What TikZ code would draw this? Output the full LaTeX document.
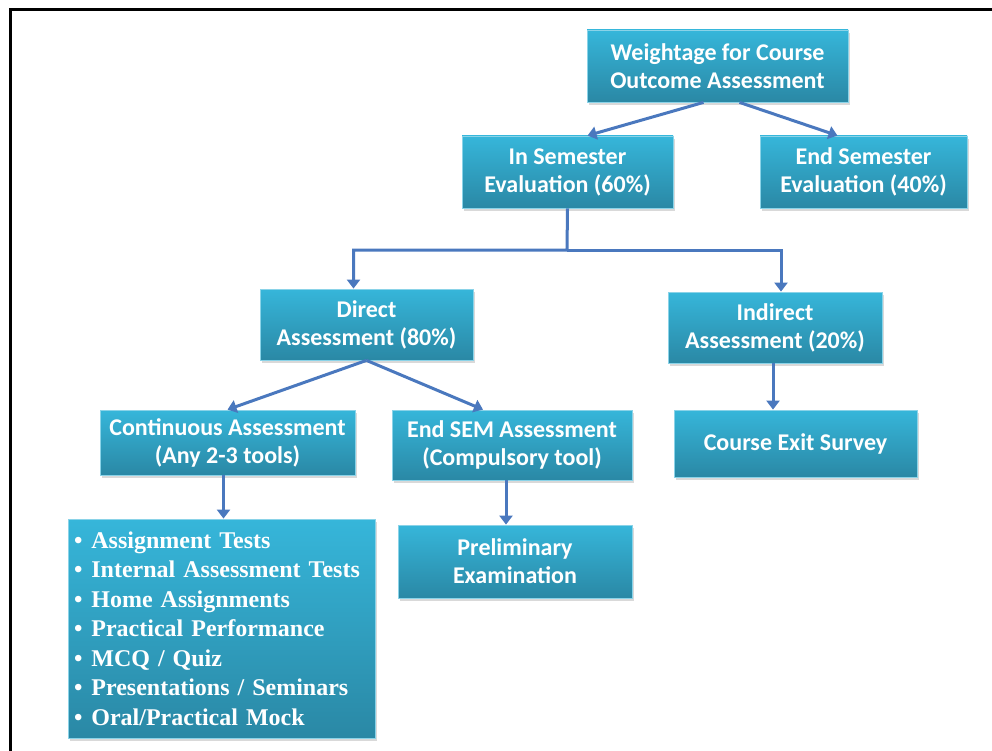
\documentclass[tikz,border=0pt]{standalone}
\usepackage{fontspec}
\setmainfont{Carlito}
\newfontfamily\listfont{Liberation Serif}
\usetikzlibrary{arrows.meta, positioning, shadows}
\definecolor{boxtop}{HTML}{36B6DA}
\definecolor{boxbot}{HTML}{2A88A5}
\definecolor{boxedge}{HTML}{8AD3E8}
\definecolor{linkblue}{HTML}{4A78BE}

\begin{document}
\begin{tikzpicture}[
    x=1pt, y=-1pt,
    box/.style={rectangle, draw=boxedge, line width=0.8pt, top color=boxtop, bottom color=boxbot, text=white, align=center, inner sep=2pt, font=\fontsize{24}{28}\selectfont\bfseries, drop shadow={shadow xshift=2pt, shadow yshift=-3pt, opacity=0.3}},
    listbox/.style={box, align=left, text width=295pt, inner xsep=6pt, font=\listfont\fontsize{24}{29.5}\selectfont\bfseries},
    arrow/.style={-{Triangle[length=9pt, width=13pt]}, draw=linkblue, line width=3pt}
]
\useasboundingbox (0,0) rectangle (992,751);

% Frame
\draw[line width=3pt] (10,751) -- (10,10) -- (992,10);

% Upper levels
\node[box, minimum width=261, minimum height=72] (top) at (717.5,66) {Weightage for Course\\Outcome Assessment};
\node[box, minimum width=211, minimum height=72] (insem) at (567.5,172) {In Semester\\Evaluation (60\%)};
\node[box, minimum width=207, minimum height=72] (endsem) at (863.5,172) {End Semester\\Evaluation (40\%)};
\node[box, minimum width=213, minimum height=71] (direct) at (366.5,324.5) {Direct\\Assessment (80\%)};
\node[box, minimum width=214, minimum height=71] (indirect) at (775,327.5) {Indirect\\Assessment (20\%)};

% Lower levels
\node[box, minimum width=255, minimum height=65] (cont) at (227.5,442.5) {Continuous Assessment\\(Any 2-3 tools)};
\node[box, minimum width=240, minimum height=70] (endsemtool) at (512,445) {End SEM Assessment\\(Compulsory tool)};
\node[box, minimum width=243, minimum height=67] (exit) at (795.5,443.5) {Course Exit Survey};
\node[box, minimum width=234, minimum height=73] (prelim) at (515,561.5) {Preliminary\\Examination};
\node[listbox, minimum height=219] (tools) at (221.5,628.5) {\textbullet\hspace{9pt}Assignment Tests\\
\textbullet\hspace{9pt}Internal Assessment Tests\\
\textbullet\hspace{9pt}Home Assignments\\
\textbullet\hspace{9pt}Practical Performance\\
\textbullet\hspace{9pt}MCQ / Quiz\\
\textbullet\hspace{9pt}Presentations / Seminars\\
\textbullet\hspace{9pt}Oral/Practical Mock};

% Arrows
\coordinate (split) at (567,250);
\draw[arrow] ([xshift=-14pt]top.south) -- ([xshift=20pt]insem.north);
\draw[arrow] ([xshift=22pt]top.south) -- ([xshift=-26pt]endsem.north);
\draw[arrow] (insem.south) -- (split) -| ([xshift=-13pt]direct.north);
\draw[arrow] (split) -| ([xshift=6pt]indirect.north);
\draw[arrow] (direct.south) -- (cont.north);
\draw[arrow] (direct.south) -- ([xshift=-29pt]endsemtool.north);
\draw[arrow] ([xshift=-4pt]cont.south) -- ([xshift=-4pt]cont.south |- tools.north);
\draw[arrow] ([xshift=-6pt]endsemtool.south) -- ([xshift=-6pt]endsemtool.south |- prelim.north);
\draw[arrow] ([xshift=-2pt]indirect.south) -- ([xshift=-2pt]indirect.south |- exit.north);

\end{tikzpicture}
\end{document}
